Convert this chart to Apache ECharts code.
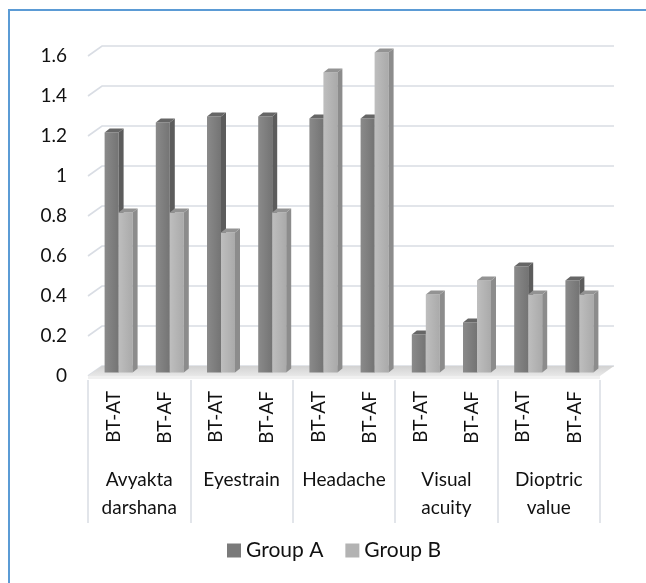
<!DOCTYPE html>
<html>
<head>
<meta charset="utf-8">
<script src="https://cdn.jsdelivr.net/npm/echarts@6/dist/echarts.min.js"></script>
<style>
  html, body { margin: 0; padding: 0; background: #fff; }
  #chart { width: 646px; height: 583px; }
</style>
</head>
<body>
<div id="chart"></div>
<script>
// Sub-categories (before / after treatment) and their parent symptom groups
const categories = ['BT-AT', 'BT-AF', 'BT-AT', 'BT-AF', 'BT-AT', 'BT-AF', 'BT-AT', 'BT-AF', 'BT-AT', 'BT-AF'];
const groups = ['Avyakta\ndarshana', 'Eyestrain', 'Headache', 'Visual\nacuity', 'Dioptric\nvalue'];

// Mean scores per series
const groupA = [1.2, 1.25, 1.28, 1.28, 1.27, 1.27, 0.19, 0.25, 0.53, 0.46];
const groupB = [0.8, 0.8, 0.7, 0.8, 1.5, 1.6, 0.39, 0.46, 0.39, 0.39];

// Value axis ticks
const yTickValues = [0, 0.2, 0.4, 0.6, 0.8, 1, 1.2, 1.4, 1.6];
const yTickLabels = ['0', '0.2', '0.4', '0.6', '0.8', '1', '1.2', '1.4', '1.6'];

// Perspective offsets for the pseudo-3D look
const WALL_DX = 14, WALL_DY = 10;   // floor / back wall depth
const BAR_DX = 5, BAR_DY = 4;       // bar depth
const BAR_W = 14;                   // bar front face width

const FONT = 'Lato, "Open Sans", sans-serif';

function plotEdges(api) {
  const w = api.size([1, 0])[0];
  return {
    x0: api.coord([0, 0])[0] - w / 2,
    x1: api.coord([categories.length - 1, 0])[0] + w / 2
  };
}

function renderGridLine(params, api) {
  const v = api.value(1);
  const e = plotEdges(api);
  const y = api.coord([0, v])[1];
  return {
    type: 'polyline',
    shape: { points: [[e.x0, y], [e.x0 + WALL_DX, y - WALL_DY], [e.x1 + WALL_DX, y - WALL_DY]] },
    style: { stroke: '#d9dde4', lineWidth: 1.6, fill: null },
    silent: true
  };
}

function renderFloor(params, api) {
  const e = plotEdges(api);
  const y = api.coord([0, 0])[1];
  return {
    type: 'group',
    children: [
      {
        type: 'polygon',
        shape: { points: [[e.x0, y], [e.x0 + WALL_DX, y - WALL_DY], [e.x1 + WALL_DX, y - WALL_DY], [e.x1, y]] },
        style: {
          fill: new echarts.graphic.LinearGradient(0, 0, 0, 1, [
            { offset: 0, color: '#d2d2d2' },
            { offset: 1, color: '#e8e8e8' }
          ])
        }
      },
      {
        type: 'rect',
        shape: { x: e.x0, y: y, width: e.x1 - e.x0, height: 3 },
        style: { fill: '#f0f0f0' }
      }
    ],
    silent: true
  };
}

function makeBarRenderer(seriesIdx, pal) {
  return function (params, api) {
    const i = api.value(0);
    const v = api.value(1);
    const top = api.coord([i, v]);
    const base = api.coord([i, 0]);
    const cx = top[0] + WALL_DX / 2;
    const left = cx - 16 + seriesIdx * BAR_W;
    const right = left + BAR_W;
    const yT = top[1] - 3.5;
    const yB = base[1] - 3.5;
    return {
      type: 'group',
      children: [
        {
          type: 'rect',
          shape: { x: left, y: yT, width: BAR_W, height: yB - yT },
          style: {
            fill: new echarts.graphic.LinearGradient(0, 0, 1, 0, [
              { offset: 0, color: pal.front0 },
              { offset: 1, color: pal.front1 }
            ])
          }
        },
        {
          type: 'polygon',
          shape: { points: [[right, yT], [right + BAR_DX, yT - BAR_DY], [right + BAR_DX, yB - BAR_DY], [right, yB]] },
          style: { fill: pal.side }
        },
        {
          type: 'polygon',
          shape: { points: [[left, yT], [left + BAR_DX, yT - BAR_DY], [right + BAR_DX, yT - BAR_DY], [right, yT]] },
          style: { fill: pal.top }
        }
      ]
    };
  };
}

const paletteA = { front0: '#8a8a8a', front1: '#747474', side: '#5c5c5c', top: '#666666', legend: '#7a7a7a' };
const paletteB = { front0: '#bebebe', front1: '#aaaaaa', side: '#8c8c8c', top: '#939393', legend: '#b3b3b3' };

const chart = echarts.init(document.getElementById('chart'), null, { renderer: 'canvas' });

chart.setOption({
  animation: false,
  backgroundColor: '#ffffff',
  textStyle: { fontFamily: FONT },
  graphic: [{
    type: 'rect',
    shape: { x: 9, y: 10, width: 700, height: 700 },
    style: { fill: null, stroke: '#5b9bd5', lineWidth: 2 },
    silent: true,
    z: 100
  }],
  grid: { left: 88, right: 46, top: 56, bottom: 207, containLabel: false },
  legend: {
    left: 227,
    top: 540,
    itemWidth: 14,
    itemHeight: 14,
    itemGap: 22,
    padding: 0,
    textStyle: { fontSize: 21, color: '#111', fontFamily: FONT },
    data: [
      { name: 'Group A', icon: 'rect', itemStyle: { color: paletteA.legend } },
      { name: 'Group B', icon: 'rect', itemStyle: { color: paletteB.legend } }
    ]
  },
  xAxis: [
    {
      type: 'category',
      data: categories,
      position: 'bottom',
      axisLine: { show: false },
      axisTick: { show: false },
      axisLabel: {
        interval: 0,
        rotate: 90,
        margin: 15,
        fontSize: 19,
        color: '#111',
        fontFamily: FONT
      },
      splitLine: { show: false }
    },
    {
      type: 'category',
      data: groups,
      position: 'bottom',
      offset: 4,
      axisLine: { show: false },
      axisTick: { show: true, length: 143, lineStyle: { color: '#d9dde4', width: 1.5 } },
      axisLabel: {
        interval: 0,
        margin: 86,
        fontSize: 19,
        lineHeight: 28,
        color: '#111',
        fontFamily: FONT
      },
      splitLine: { show: false }
    }
  ],
  yAxis: {
    type: 'value',
    min: 0,
    max: 1.6,
    interval: 0.2,
    axisLine: { show: false },
    axisTick: { show: false },
    splitLine: { show: false },
    axisLabel: {
      margin: 21,
      fontSize: 19,
      color: '#111',
      fontFamily: FONT,
      formatter: function (val) {
        const idx = yTickValues.findIndex(t => Math.abs(t - val) < 1e-6);
        return idx >= 0 ? yTickLabels[idx] : '';
      }
    }
  },
  series: [
    {
      name: 'walls',
      type: 'custom',
      renderItem: renderGridLine,
      data: yTickValues.map(v => [0, v]),
      z: 1,
      silent: true
    },
    {
      name: 'floor',
      type: 'custom',
      renderItem: renderFloor,
      data: [[0, 0]],
      z: 2,
      silent: true
    },
    {
      name: 'Group A',
      type: 'custom',
      itemStyle: { color: paletteA.legend },
      renderItem: makeBarRenderer(0, paletteA),
      data: groupA.map((v, i) => [i, v]),
      z: 3
    },
    {
      name: 'Group B',
      type: 'custom',
      itemStyle: { color: paletteB.legend },
      renderItem: makeBarRenderer(1, paletteB),
      data: groupB.map((v, i) => [i, v]),
      z: 4
    }
  ]
});
</script>
</body>
</html>
